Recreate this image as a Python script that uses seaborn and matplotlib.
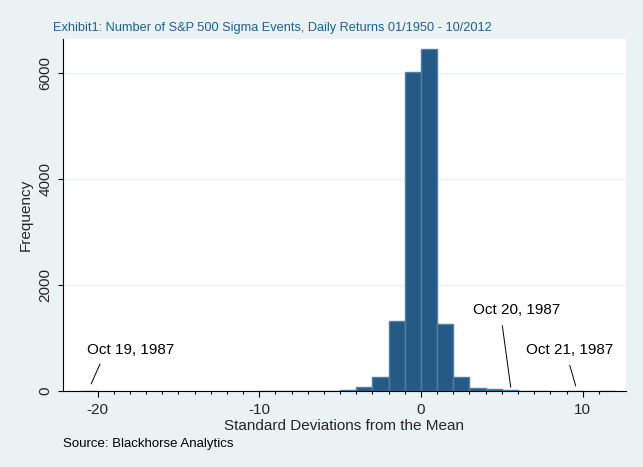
import numpy as np
import pandas as pd
import matplotlib
matplotlib.use("Agg")
import matplotlib.pyplot as plt
import seaborn as sns
from matplotlib.ticker import FixedLocator

# histogram bins, width one standard deviation, left edges -21 .. 11
bin_left = list(range(-21, 12))
counts = [1,                                   # -21
          0, 0, 0, 0, 0, 0, 0, 0, 0, 0,        # -20 .. -11
          1, 1, 2, 3, 5, 12,                   # -10 .. -5
          75, 258, 1320, 6010,                 # -4 .. -1
          6450, 1270, 258, 57, 38,             # 0 .. 4
          15, 8, 4, 0, 1, 0, 1]                # 5 .. 11

x_ticks = [-20, -10, 0, 10]
y_ticks = [0, 2000, 4000, 6000]

# labelled crash days: text, text anchor (x, y), leader line (x0, y0, x1, y1)
notes = [
    ("Oct 19, 1987", -20.64, 773, -20.4, 132, -19.85, 509),
    ("Oct 20, 1987", 3.22, 1527, 5.03, 1231, 5.55, 70),
    ("Oct 21, 1987", 6.47, 773, 9.2, 484, 9.57, 94),
]

title = "Exhibit1: Number of S&P 500 Sigma Events, Daily Returns 01/1950 - 10/2012"
source = "Source: Blackhorse Analytics"

bg = "#eaf2f3"
bar_fill = "#245a85"
bar_edge = "#4f80a2"

sns.set_theme(style="white")
plt.rcParams["font.family"] = ["Liberation Sans", "DejaVu Sans"]
plt.rcParams["axes.unicode_minus"] = False

df = pd.DataFrame({"sd": np.array(bin_left) + 0.5, "n": counts})

fig = plt.figure(figsize=(6.43, 4.67), dpi=100, facecolor=bg)
ax = fig.add_axes([63.3 / 643, 76 / 467, 562.4 / 643, 352 / 467])
ax.set_facecolor("white")

sns.histplot(data=df, x="sd", weights="n", binwidth=1, binrange=(-21, 12),
             ax=ax, color=bar_fill, alpha=1, edgecolor=bar_edge, linewidth=1.0)
for p in list(ax.patches):
    if p.get_height() == 0:
        p.remove()

for label, tx, ty, x0, y0, x1, y1 in notes:
    ax.plot([x0, x1], [y0, y1], color="black", lw=0.7)
    ax.text(tx, ty, label, ha="left", va="center", fontsize=11, color="black")

ax.set_xlim(-22.12, 12.66)
ax.set_ylim(0, 6635)
ax.set_xticks(x_ticks)
ax.xaxis.set_minor_locator(FixedLocator(np.arange(-20, 12)))
ax.set_yticks(y_ticks)
ax.yaxis.grid(True, color=bg, lw=1.0)
ax.set_axisbelow(True)

for s in ["top", "right"]:
    ax.spines[s].set_visible(False)
for s in ["left", "bottom"]:
    ax.spines[s].set_color("black")
    ax.spines[s].set_linewidth(0.8)

ax.tick_params(axis="x", which="major", length=4.2, width=0.8, color="black",
               labelsize=11, pad=4.3, bottom=True, direction="out")
ax.tick_params(axis="x", which="minor", length=2.2, width=0.8, color="black",
               bottom=True, direction="out")
ax.tick_params(axis="y", length=3.6, width=0.8, color="black", labelsize=11,
               pad=4, left=True, direction="out")
for t in ax.get_yticklabels():
    t.set_rotation(90)
    t.set_va("center")

ax.set_xlabel("Standard Deviations from the Mean", fontsize=11, labelpad=1.5)
ax.set_ylabel("Frequency", fontsize=11, labelpad=4.5)

fig.text(53 / 643, 1 - 28 / 467, title, ha="left", va="center",
         fontsize=9.2, color="#1f5f94")
fig.text(63 / 643, 1 - 444 / 467, source, ha="left", va="center",
         fontsize=9.5, color="black")

fig.savefig("out.png", dpi=100, facecolor=bg)
